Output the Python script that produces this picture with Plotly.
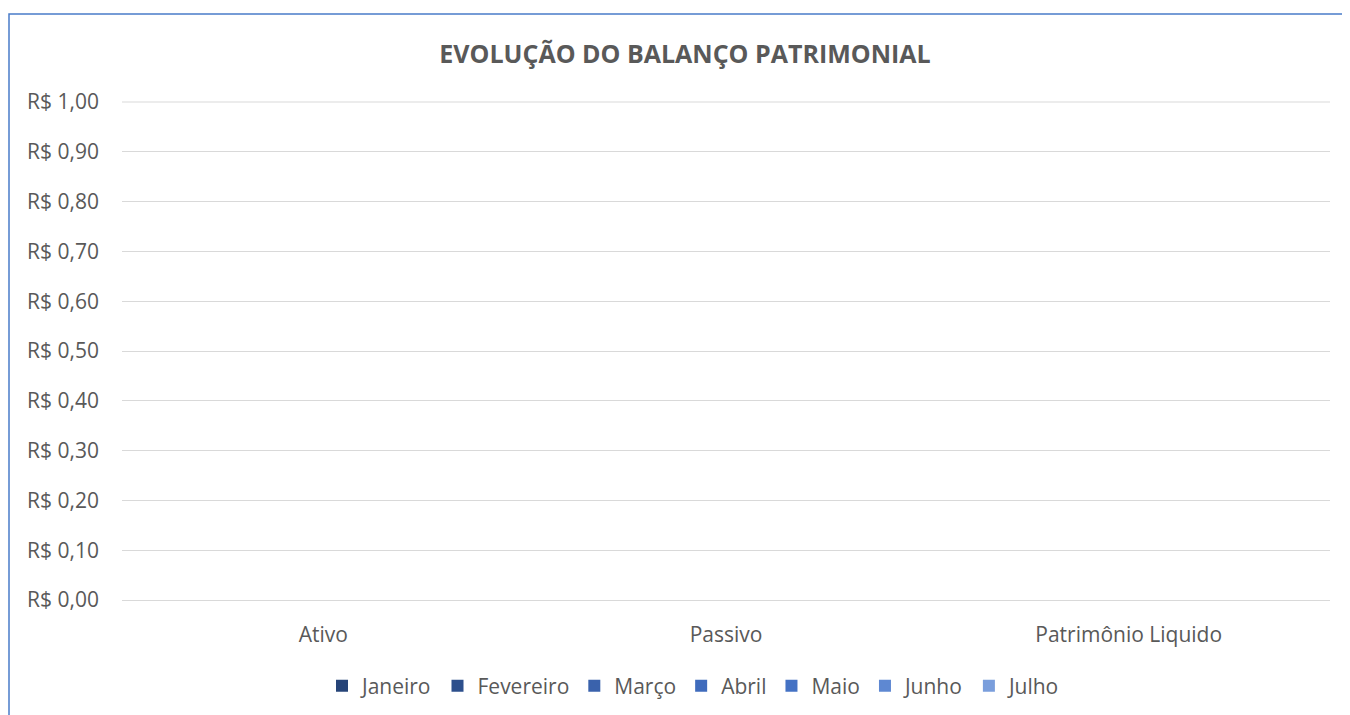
import plotly.graph_objects as go

categories = ["Ativo", "Passivo", "Patrimônio Liquido"]
months = ["Janeiro", "Fevereiro", "Março", "Abril", "Maio", "Junho", "Julho"]
values = {
    "Janeiro": [0, 0, 0],
    "Fevereiro": [0, 0, 0],
    "Março": [0, 0, 0],
    "Abril": [0, 0, 0],
    "Maio": [0, 0, 0],
    "Junho": [0, 0, 0],
    "Julho": [0, 0, 0],
}
y_ticks = [0, 0.1, 0.2, 0.3, 0.4, 0.5, 0.6, 0.7, 0.8, 0.9, 1.0]
y_tick_labels = ["R$ 0,00", "R$ 0,10", "R$ 0,20", "R$ 0,30", "R$ 0,40", "R$ 0,50",
                 "R$ 0,60", "R$ 0,70", "R$ 0,80", "R$ 0,90", "R$ 1,00"]
colors = ["#264478", "#2D4F8C", "#3A62AC", "#3F6BBC", "#4472C4", "#5E88D2", "#7A9EDC"]

FONT = "Open Sans"
GREY = "#595959"
FS = 21

fig = go.Figure()
for m, c in zip(months, colors):
    fig.add_trace(go.Bar(x=categories, y=values[m], name=m,
                         marker=dict(color=c, line=dict(width=0))))

# page has an 8px body margin: target positions shifted by -8 px
OFF = 8
W, H = 1350, 715
L, R, T, B = 122 - OFF, 28, 102 - OFF, 123
pw = W - L - R
ph = H - T - B

def px_x(x):
    return (x - OFF - L) / pw

def px_y(y):
    return (H - B - (y - OFF)) / ph

fig.update_layout(
    width=W, height=H,
    margin=dict(l=L, r=R, t=T, b=B),
    paper_bgcolor="white", plot_bgcolor="white",
    font=dict(family=FONT, size=FS, color=GREY),
    title=dict(text="<b>EVOLUÇÃO DO BALANÇO PATRIMONIAL</b>",
               x=(685 - OFF) / W, xanchor="center", y=1 - (54 - OFF) / H, yanchor="middle",
               font=dict(family=FONT, size=25, color=GREY)),
    barmode="group",
    bargap=0.3,
    showlegend=True,
    legend=dict(orientation="h", x=px_x(694), xanchor="center",
                y=px_y(686), yanchor="middle",
                font=dict(family=FONT, size=FS, color=GREY),
                itemwidth=30, traceorder="normal"),
    shapes=[dict(type="rect", xref="paper", yref="paper",
                 x0=px_x(9), x1=px_x(1420), y0=px_y(780), y1=px_y(14),
                 line=dict(color="#4A7CC9", width=1.5), fillcolor="rgba(0,0,0,0)",
                 layer="below"),
            dict(type="line", xref="paper", yref="paper",
                 x0=0, x1=1, y0=1, y1=1,
                 line=dict(color="#D9D9D9", width=1), layer="below")],
)
fig.update_xaxes(showgrid=False, showline=False, ticks="", ticklabelstandoff=20,
                 tickfont=dict(family=FONT, size=FS, color=GREY))
fig.update_yaxes(range=[0, 1], tickvals=y_ticks, ticktext=y_tick_labels,
                 showgrid=True, gridcolor="#D9D9D9", gridwidth=1,
                 zeroline=True, zerolinecolor="#D9D9D9", zerolinewidth=1,
                 showline=False, ticks="", ticklabelstandoff=22,
                 tickfont=dict(family=FONT, size=FS, color=GREY))

fig.write_html("out.html")
